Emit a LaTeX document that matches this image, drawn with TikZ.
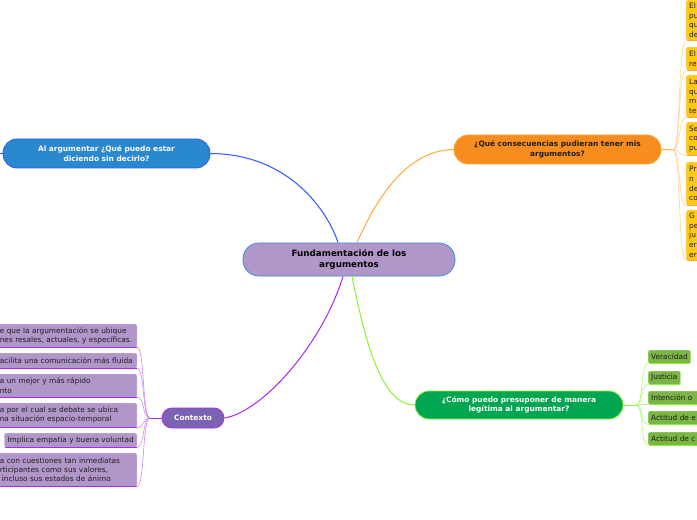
\documentclass[tikz,border=0pt]{standalone}
\usepackage{fontspec}
\setmainfont{DejaVu Sans}
\definecolor{cenfill}{HTML}{B197C9}
\definecolor{cenedge}{HTML}{3F8BD2}
\definecolor{bluefill}{HTML}{2A88CE}
\definecolor{blueline}{HTML}{2F57FF}
\definecolor{orfill}{HTML}{F78D1F}
\definecolor{orline}{HTML}{FFAA3A}
\definecolor{grfill}{HTML}{00A650}
\definecolor{grline}{HTML}{8AF531}
\definecolor{cxfill}{HTML}{7C63B1}
\definecolor{cxline}{HTML}{A62BEF}
\definecolor{kfill}{HTML}{B196C9}
\definecolor{kedge}{HTML}{CDA9EC}
\definecolor{yfill}{HTML}{FFC815}
\definecolor{yedge}{HTML}{FFD27A}
\definecolor{gfill}{HTML}{7BB546}
\definecolor{gedge}{HTML}{A9E37A}
\definecolor{txtdark}{HTML}{1E1E1E}
\begin{document}
\begin{tikzpicture}[x=1bp,y=-1bp,
  mainnode/.style={align=center, inner sep=0pt, line width=0.8bp,
    font=\bfseries\fontsize{7.45}{9.6}\selectfont},
  kbox/.style={fill=kfill, draw=kedge, line width=0.4bp, rounded corners=2bp,
    align=left, inner xsep=3bp, inner ysep=0pt, anchor=north east,
    font=\fontsize{7.4}{9.4}\selectfont, text=txtdark},
  ybox/.style={fill=yfill, draw=yedge, line width=0.4bp, rounded corners=2bp,
    align=left, inner xsep=3bp, inner ysep=0pt, anchor=north west, text width=40bp,
    font=\fontsize{7.4}{9.6}\selectfont, text=txtdark},
  gbox/.style={fill=gfill, draw=gedge, line width=0.4bp, rounded corners=2bp,
    align=left, inner xsep=3bp, inner ysep=0pt, anchor=north west, minimum height=13bp,
    font=\fontsize{7.4}{9.4}\selectfont, text=txtdark},
  kline/.style={draw=cxline, line width=1.4bp},
  yline/.style={draw=orline, line width=1.4bp},
  gline/.style={draw=grline, line width=1.4bp},
  kconn/.style={draw=cxline!55, line width=0.6bp},
  yconn/.style={draw=orline!55, line width=0.6bp},
  gconn/.style={draw=grline!70, line width=0.6bp}
]
\useasboundingbox (0,0) rectangle (697,520);
\clip (0,0) rectangle (697,520);
\fill[white] (0,0) rectangle (697,520);

% main nodes
\node[mainnode, fill=cenfill, draw=cenedge, rounded corners=16bp,
  minimum width=212bp, minimum height=33bp, text=black,
  font=\bfseries\fontsize{8.8}{11}\selectfont] (cen) at (349,259.5)
  {Fundamentación de los\\argumentos};
\node[mainnode, fill=bluefill, draw=blueline, rounded corners=14bp,
  minimum width=207bp, minimum height=29bp, text=white] (blue) at (106.5,153.5)
  {Al argumentar ¿Qué puedo estar\\diciendo sin decirlo?};
\node[mainnode, fill=orfill, draw=orline, rounded corners=14bp,
  minimum width=207bp, minimum height=29bp, text=txtdark] (ora) at (557.5,149.5)
  {¿Qué consecuencias pudieran tener mis\\argumentos?};
\node[mainnode, fill=grfill, draw=grline, rounded corners=14bp,
  minimum width=208bp, minimum height=28bp, text=white] (gre) at (519,405)
  {¿Cómo puedo presuponer de manera\\legítima al argumentar?};
\node[mainnode, fill=cxfill, draw=cxline, rounded corners=10bp,
  minimum width=62bp, minimum height=20bp, text=white] (ctx) at (193,418)
  {Contexto};

% main connectors
\draw[blueline, line width=1bp] (blue.east) .. controls (290,154) and (328,212) .. ([xshift=-11bp]cen.north);
\draw[orline, line width=1bp] ([xshift=8bp]cen.north) .. controls (375,202) and (405,150) .. (ora.west);
\draw[cxline, line width=1bp] ([xshift=-6bp]cen.south) .. controls (322,345) and (262,412) .. (ctx.east);
\draw[grline, line width=1bp] ([xshift=3bp]cen.south) .. controls (366,345) and (382,405) .. (gre.west);
\coordinate (bluel) at (-6,153.5);
\draw[blueline, line width=1bp] (blue.west) -- (bluel);

% Contexto children
\node[kbox, text width=134bp, minimum height=23bp] (k1) at (137,324)
  {e que la argumentación se ubique\\nes resales, actuales, y específicas.};
\node[kbox, text width=134bp, minimum height=15bp] (k2) at (137,353)
  {acilita una comunicación más fluida};
\node[kbox, text width=134bp, minimum height=23bp] (k3) at (137,374)
  {a un mejor y más rápido\\nto};
\node[kbox, text width=134bp, minimum height=24bp] (k4) at (137,403)
  {a por el cual se debate se ubica\\na situación espacio-temporal};
\node[kbox, minimum height=14bp] (k5) at (137,433)
  {Implica empatía y buena voluntad};
\node[kbox, text width=134bp, minimum height=33bp] (k6) at (137,453)
  {a con cuestiones tan inmediatas\\rticipantes como sus valores,\\\hspace*{2bp}incluso sus estados de ánimo};

\coordinate (khub) at (150,418);
\draw[cxline, line width=1bp] (ctx.west) -- (khub);
\foreach \n in {k1,k2,k3,k4,k5,k6}{
  \draw[kline] ([xshift=1bp]\n.south west) -- ([xshift=-0.5bp]\n.south east);
  \draw[kconn] (khub) .. controls +(-8,0) and +(8,0) .. (\n.south east);
}

% Orange children
\node[ybox, minimum height=40bp] (y1) at (686,0) {El\\pu\\qu\\de};
\node[ybox, minimum height=23bp] (y2) at (686,47) {El\\re};
\node[ybox, minimum height=42bp] (y3) at (686,75) {La\\qu\\m\\te};
\node[ybox, minimum height=33bp] (y4) at (686,122) {Se\\co\\pu};
\node[ybox, minimum height=43bp] (y5) at (686,162) {Pr\\n\\de\\co};
\node[ybox, minimum height=50bp] (y6) at (686,210) {G\\pe\\ju\\er\\er};

\coordinate (yhub) at (673,150);
\draw[orline, line width=1bp] (ora.east) -- (yhub);
\foreach \n in {y1,y2,y3,y4,y5,y6}{
  \draw[yline] ([xshift=0.5bp]\n.south west) -- ([xshift=-1bp]\n.south east);
  \draw[yconn] (yhub) .. controls +(8,0) and +(-8,0) .. (\n.south west);
}

% Green children
\node[gbox] (g1) at (648,350) {Veracidad};
\node[gbox] (g2) at (648,371) {Justicia};
\node[gbox, text width=60bp] (g3) at (648,391) {Intención o};
\node[gbox, text width=60bp] (g4) at (648,411) {Actitud de e};
\node[gbox, text width=60bp] (g5) at (648,432) {Actitud de c};

\coordinate (ghub) at (636,405);
\draw[grline, line width=1bp] (gre.east) -- (ghub);
\foreach \n in {g1,g2,g3,g4,g5}{
  \draw[gline] ([xshift=0.5bp]\n.south west) -- ([xshift=-1bp]\n.south east);
  \draw[gconn] (ghub) .. controls +(8,0) and +(-8,0) .. (\n.south west);
}
\end{tikzpicture}
\end{document}
